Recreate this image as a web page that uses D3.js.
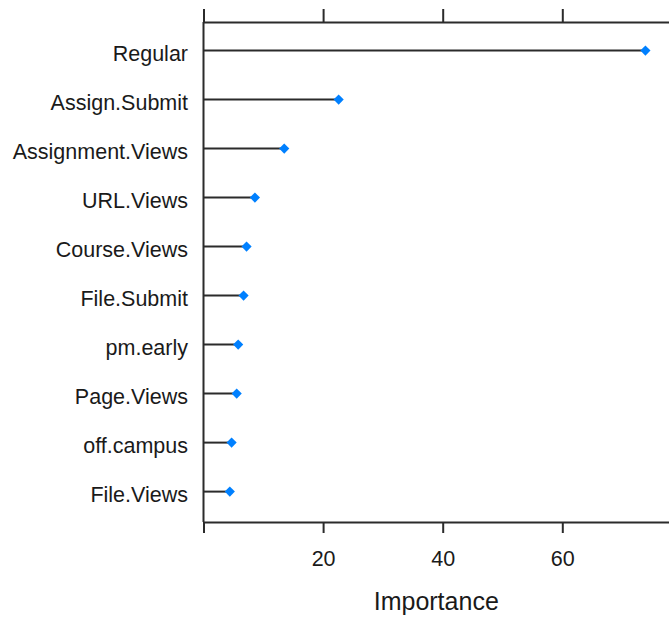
<!DOCTYPE html>
<html>
<head>
<meta charset="utf-8">
<script src="https://cdn.jsdelivr.net/npm/d3@7"></script>
<style>
  body { margin: 0; background: #fff; }
  svg { display: block; font-family: "Liberation Sans", Arial, sans-serif; }
</style>
</head>
<body>
<svg id="chart"></svg>
<script>
// variable importance, top to bottom
const features = ['Regular', 'Assign.Submit', 'Assignment.Views', 'URL.Views', 'Course.Views',
                  'File.Submit', 'pm.early', 'Page.Views', 'off.campus', 'File.Views']
const importance = [73.9, 22.6, 13.5, 8.6, 7.2, 6.7, 5.8, 5.55, 4.7, 4.4]
const tickValues = [0, 20, 40, 60]

const fullWidth = 669
const fullHeight = 617
const ink = '#2b2b2b'
const textInk = '#1a1a1a'

const svg = d3.select('#chart')
    .attr('width', fullWidth)
    .attr('height', fullHeight)

// scales
const x = d3.scaleLinear().domain([0, 80]).range([203.5, 681.9])
const y = d3.scalePoint().domain(features).range([50.6, 491.6])

const panelTop = 22
const panelBottom = 522

// axes (the 0 tick doubles as the left frame overhang)
const xTop = d3.axisTop(x).tickValues(tickValues).tickSize(13).tickSizeOuter(0).tickFormat('')
const xBottom = d3.axisBottom(x).tickValues(tickValues).tickSize(11).tickSizeOuter(0)
    .tickFormat(d => d === 0 ? '' : d)

const gTop = svg.append('g')
    .attr('transform', `translate(0, ${panelTop})`)
    .call(xTop)

const gBottom = svg.append('g')
    .attr('transform', `translate(0, ${panelBottom})`)
    .call(xBottom)

for (const g of [gTop, gBottom]) {
    g.selectAll('path.domain, line').attr('stroke', ink).attr('stroke-width', 2)
}
gBottom.selectAll('text')
    .attr('fill', textInk)
    .attr('font-size', 21.5)
    .attr('y', 29)
    .attr('dy', '0.71em')

// left frame line
svg.append('line')
    .attr('x1', x(0)).attr('x2', x(0))
    .attr('y1', panelTop).attr('y2', panelBottom)
    .attr('stroke', ink)
    .attr('stroke-width', 2)

// category labels
svg.append('g')
    .selectAll('text')
    .data(features)
    .join('text')
    .attr('x', 188)
    .attr('y', d => y(d))
    .attr('dy', '0.48em')
    .attr('text-anchor', 'end')
    .attr('font-size', 21.5)
    .attr('fill', textInk)
    .text(d => d)

// stems
const rows = features.map((f, i) => ({ name: f, value: importance[i] }))

svg.append('g')
    .selectAll('line')
    .data(rows)
    .join('line')
    .attr('x1', x(0))
    .attr('x2', d => x(d.value))
    .attr('y1', d => y(d.name))
    .attr('y2', d => y(d.name))
    .attr('stroke', ink)
    .attr('stroke-width', 2)

// diamonds
const diamond = d3.symbol().type(d3.symbolDiamond2).size(66)

svg.append('g')
    .selectAll('path')
    .data(rows)
    .join('path')
    .attr('transform', d => `translate(${x(d.value)}, ${y(d.name)})`)
    .attr('d', diamond)
    .attr('fill', '#0080ff')

// axis title
svg.append('text')
    .attr('x', (x(0) + fullWidth) / 2)
    .attr('y', 610)
    .attr('text-anchor', 'middle')
    .attr('font-size', 25)
    .attr('fill', textInk)
    .text('Importance')
</script>
</body>
</html>
